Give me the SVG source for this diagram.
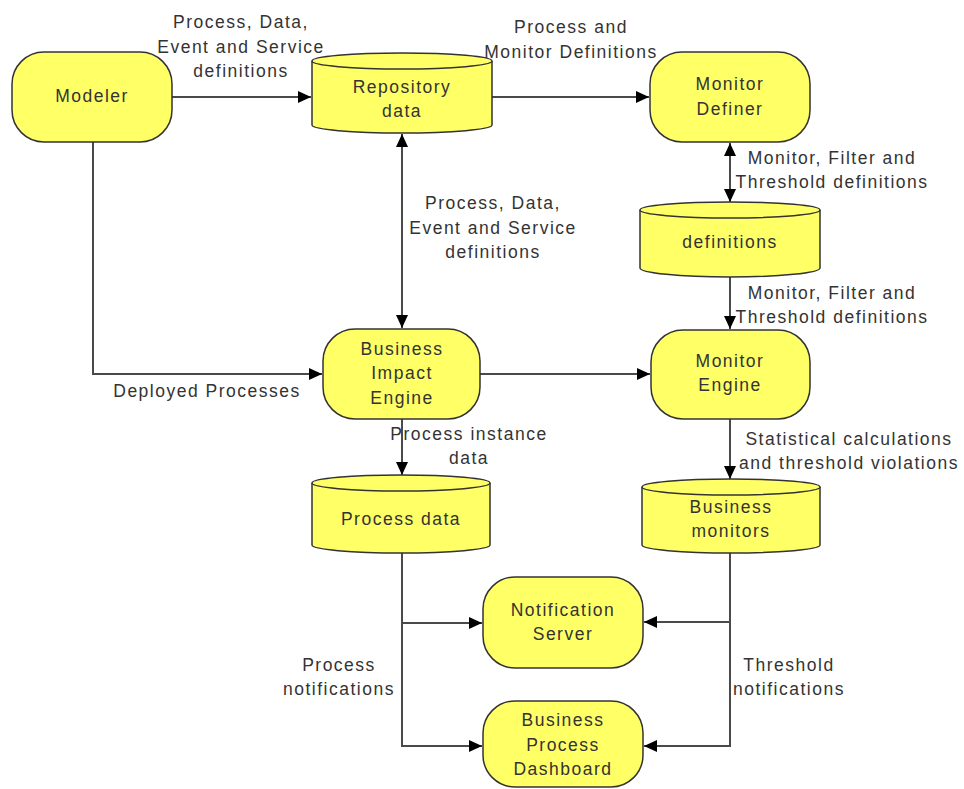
<svg xmlns="http://www.w3.org/2000/svg" width="964" height="789" viewBox="0 0 964 789">
<defs>
<style>
.node{fill:#ffff66;stroke:#333;stroke-width:1.5}
.t{font-family:"Liberation Sans",Arial,sans-serif;font-size:17.5px;letter-spacing:1.5px;fill:#333;text-anchor:middle}
.c{fill:none;stroke:#4a4a4a;stroke-width:2}
.a{marker-end:url(#ah)}
.d{marker-start:url(#ah);marker-end:url(#ah)}
</style>
<marker id="ah" markerUnits="userSpaceOnUse" markerWidth="14" markerHeight="12" refX="13" refY="6" orient="auto-start-reverse">
<path d="M0,0 L13,6 L0,12 Z" fill="#000"/>
</marker>
</defs>
<rect width="964" height="789" fill="#fff"/>

<g id="connectors">
<path class="c a" d="M172,97 H311"/>
<path class="c a" d="M492,97 H649"/>
<path class="c d" d="M730,143 V202"/>
<path class="c a" d="M730,277 V329"/>
<path class="c d" d="M402,134 V328"/>
<path class="c a" d="M93,142 V374 H322"/>
<path class="c a" d="M480,374 H650"/>
<path class="c a" d="M402,419 V475"/>
<path class="c a" d="M730,419 V479"/>
<path class="c a" d="M402,553 V623 H482"/>
<path class="c a" d="M402,623 V746 H482"/>
<path class="c a" d="M730,553 V622 H644"/>
<path class="c a" d="M730,622 V746 H644"/>
</g>

<g id="labels">
<text class="t" x="241" y="28">Process, Data,</text>
<text class="t" x="241" y="52.5">Event and Service</text>
<text class="t" x="241" y="77">definitions</text>
<text class="t" x="571" y="33">Process and</text>
<text class="t" x="571" y="58">Monitor Definitions</text>
<text class="t" x="832" y="164">Monitor, Filter and</text>
<text class="t" x="832" y="188">Threshold definitions</text>
<text class="t" x="832" y="299">Monitor, Filter and</text>
<text class="t" x="832" y="323">Threshold definitions</text>
<text class="t" x="493" y="209">Process, Data,</text>
<text class="t" x="493" y="234">Event and Service</text>
<text class="t" x="493" y="258">definitions</text>
<text class="t" x="207" y="397">Deployed Processes</text>
<text class="t" x="469" y="440">Process instance</text>
<text class="t" x="469" y="464">data</text>
<text class="t" x="849" y="445">Statistical calculations</text>
<text class="t" x="849" y="469">and threshold violations</text>
<text class="t" x="339" y="671">Process</text>
<text class="t" x="339" y="695">notifications</text>
<text class="t" x="789" y="671">Threshold</text>
<text class="t" x="789" y="695">notifications</text>
</g>

<g id="modeler">
<rect class="node" x="12" y="52" width="160" height="90" rx="32" ry="32"/>
<text class="t" x="92" y="102">Modeler</text>
</g>

<g id="repository-data">
<path class="node" d="M312,61 V125 A90,8 0 0 0 492,125 V61 A90,8 0 0 0 312,61 Z"/>
<path class="node" fill="none" d="M312,61 A90,8 0 0 0 492,61"/>
<text class="t" x="402" y="93">Repository</text>
<text class="t" x="402" y="117">data</text>
</g>

<g id="monitor-definer">
<rect class="node" x="650" y="52" width="160" height="90" rx="32" ry="32"/>
<text class="t" x="730" y="90">Monitor</text>
<text class="t" x="730" y="115">Definer</text>
</g>

<g id="definitions">
<path class="node" d="M640,210 V268 A90,9 0 0 0 820,268 V210 A90,8 0 0 0 640,210 Z"/>
<path class="node" d="M640,210 A90,8 0 0 0 820,210"/>
<text class="t" x="730" y="248">definitions</text>
</g>

<g id="business-impact-engine">
<rect class="node" x="323" y="329" width="157" height="90" rx="32" ry="32"/>
<text class="t" x="402" y="355">Business</text>
<text class="t" x="402" y="379">Impact</text>
<text class="t" x="402" y="404">Engine</text>
</g>

<g id="monitor-engine">
<rect class="node" x="651" y="330" width="159" height="89" rx="32" ry="32"/>
<text class="t" x="730" y="367">Monitor</text>
<text class="t" x="730" y="391">Engine</text>
</g>

<g id="process-data">
<path class="node" d="M312,483 V545 A89,8 0 0 0 490,545 V483 A89,8 0 0 0 312,483 Z"/>
<path class="node" d="M312,483 A89,8 0 0 0 490,483"/>
<text class="t" x="401" y="525">Process data</text>
</g>

<g id="business-monitors">
<path class="node" d="M642,487 V545 A89,8 0 0 0 820,545 V487 A89,8 0 0 0 642,487 Z"/>
<path class="node" d="M642,487 A89,8 0 0 0 820,487"/>
<text class="t" x="731" y="513">Business</text>
<text class="t" x="731" y="537">monitors</text>
</g>

<g id="notification-server">
<rect class="node" x="483" y="577" width="160" height="91" rx="32" ry="32"/>
<text class="t" x="563" y="616">Notification</text>
<text class="t" x="563" y="640">Server</text>
</g>

<g id="business-process-dashboard">
<rect class="node" x="483" y="701" width="160" height="86" rx="32" ry="32"/>
<text class="t" x="563" y="726">Business</text>
<text class="t" x="563" y="751">Process</text>
<text class="t" x="563" y="775">Dashboard</text>
</g>
</svg>
